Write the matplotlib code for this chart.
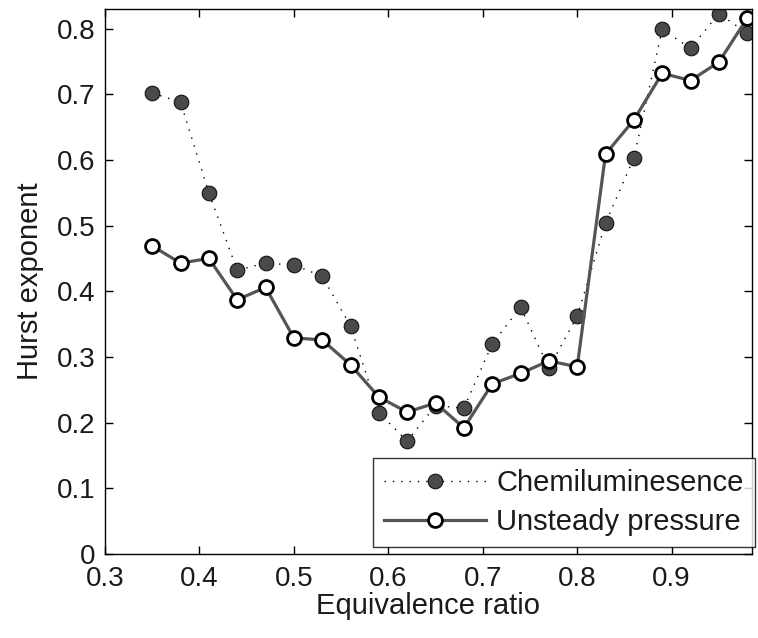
import numpy as np
import matplotlib
matplotlib.use("Agg")
import matplotlib.pyplot as plt

plt.rcParams['font.family'] = ['Liberation Sans', 'DejaVu Sans']

# equivalence ratio sweep
phi = [0.35, 0.38, 0.41, 0.44, 0.47, 0.50, 0.53, 0.56, 0.59, 0.62, 0.65,
       0.68, 0.71, 0.74, 0.77, 0.80, 0.83, 0.86, 0.89, 0.92, 0.95, 0.98]
# Hurst exponent, chemiluminescence signal
hurst_chemi = [0.702, 0.688, 0.550, 0.432, 0.443, 0.440, 0.423, 0.347, 0.215, 0.172, 0.226,
               0.222, 0.320, 0.376, 0.283, 0.362, 0.504, 0.603, 0.799, 0.770, 0.823, 0.793]
# Hurst exponent, unsteady pressure signal
hurst_press = [0.469, 0.443, 0.450, 0.387, 0.406, 0.329, 0.326, 0.288, 0.239, 0.216, 0.230,
               0.192, 0.259, 0.275, 0.294, 0.285, 0.609, 0.661, 0.732, 0.721, 0.749, 0.816]

xticks = [0.3, 0.4, 0.5, 0.6, 0.7, 0.8, 0.9]
yticks = [0, 0.1, 0.2, 0.3, 0.4, 0.5, 0.6, 0.7, 0.8]
ytick_labels = ['0', '0.1', '0.2', '0.3', '0.4', '0.5', '0.6', '0.7', '0.8']

fig = plt.figure(figsize=(7.58, 6.38), dpi=100)
ax = fig.add_axes([0.1385, 0.1317, 0.8535, 0.8543])

fs_tick = 20
fs = 21
txt_col = '#1a1a1a'

ax.plot(phi, hurst_chemi, color='black', linestyle=(0, (1, 5)), linewidth=1.0,
        marker='o', markersize=10.5, markerfacecolor='#4a4a4a',
        markeredgecolor='#111111', markeredgewidth=0.8, label='Chemiluminesence')
ax.plot(phi, hurst_press, color='#555555', linestyle='-', linewidth=2.3,
        marker='o', markersize=10, markerfacecolor='white',
        markeredgecolor='black', markeredgewidth=2.0, label='Unsteady pressure')

ax.set_xlim(0.3, 0.985)
ax.set_ylim(0, 0.83)
ax.set_xticks(xticks)
ax.set_xticklabels([str(t) for t in xticks])
ax.set_yticks(yticks)
ax.set_yticklabels(ytick_labels)
ax.tick_params(direction='in', length=6, width=1, top=True, right=True,
               labelsize=fs_tick, labelcolor=txt_col)
ax.tick_params(axis='x', pad=9)
ax.tick_params(axis='y', pad=7)
for sp in ax.spines.values():
    sp.set_linewidth(1.0)
    sp.set_color('black')

ax.set_xlabel('Equivalence ratio', fontsize=fs, labelpad=0, color=txt_col)
ax.set_ylabel('Hurst exponent', fontsize=fs, labelpad=9, color=txt_col)

leg = ax.legend(loc='lower right', bbox_to_anchor=(1.004, 0.013), borderaxespad=0,
                fontsize=fs, frameon=True, fancybox=False, edgecolor='black',
                handlelength=3.5, handletextpad=0.35, labelspacing=0.38,
                borderpad=0.38)
leg.get_frame().set_linewidth(1.0)
for t in leg.get_texts():
    t.set_color(txt_col)

fig.savefig('out.png', dpi=100)
